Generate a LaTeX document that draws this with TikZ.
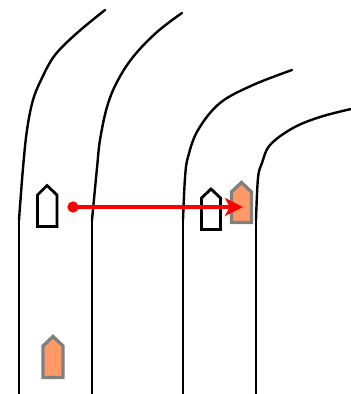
\documentclass[tikz,border=0pt]{standalone}
\usetikzlibrary{arrows.meta}
\definecolor{shipfill}{HTML}{FF9966}
\definecolor{shipedge}{HTML}{808080}
\tikzset{
  lane/.style={draw=black,line width=1.8pt,line cap=round,line join=round},
  ownship/.style={draw=black,fill=white,line width=2.1pt,miter limit=10},
  ghostship/.style={draw=shipedge,fill=shipfill,line width=2.5pt},
  dotnode/.style={circle,fill=red,draw=none,inner sep=0pt,minimum size=8.5pt},
  transfer/.style={draw=red,line width=2.4pt,-{Stealth[length=13.5pt,width=13.5pt,inset=3.5pt]}}
}
\begin{document}
\begin{tikzpicture}[x=0.75pt,y=-0.75pt]
\useasboundingbox (0,0) rectangle (351,394);
% lanes
\draw[lane] (19,394) -- (19,220);
\draw[lane] plot[smooth,tension=0.6] coordinates {(19,220) (23,168) (27,130) (33,100) (42,78) (55,55) (77,33) (105,10)};
\draw[lane] (92,394) -- (92,220);
\draw[lane] plot[smooth,tension=0.6] coordinates {(92,220) (97,168) (100,140) (107,107) (117,82) (133,57) (157,32) (182,13)};
\draw[lane] (183,394) -- (183,220);
\draw[lane] plot[smooth,tension=0.6] coordinates {(183,220) (185,178) (188,157) (198,130) (220,103) (253,85) (292,70)};
\draw[lane] (256,394) -- (256,220);
\draw[lane] plot[smooth,tension=0.6] coordinates {(256,220) (258,178) (262,163) (270,145) (293,128) (320,117) (351,109)};
% vessels
\draw[ownship] (37.5,226.5) -- (37.5,195) -- (47,185.5) -- (57,195) -- (57,226.5) -- cycle;
\draw[ownship] (201.5,229.5) -- (201.5,198) -- (211,189) -- (220.5,198) -- (220.5,229.5) -- cycle;
\draw[ghostship] (231.5,222.5) -- (231.5,192) -- (241.5,182.5) -- (251.5,192) -- (251.5,222.5) -- cycle;
\draw[ghostship] (43,377.5) -- (43,346) -- (53,336.5) -- (63,346) -- (63,377.5) -- cycle;
% transfer arrow
\node[dotnode] (src) at (73,207) {};
\coordinate (dst) at (243,207);
\draw[transfer] (src.center) -- (dst);
\end{tikzpicture}
\end{document}
